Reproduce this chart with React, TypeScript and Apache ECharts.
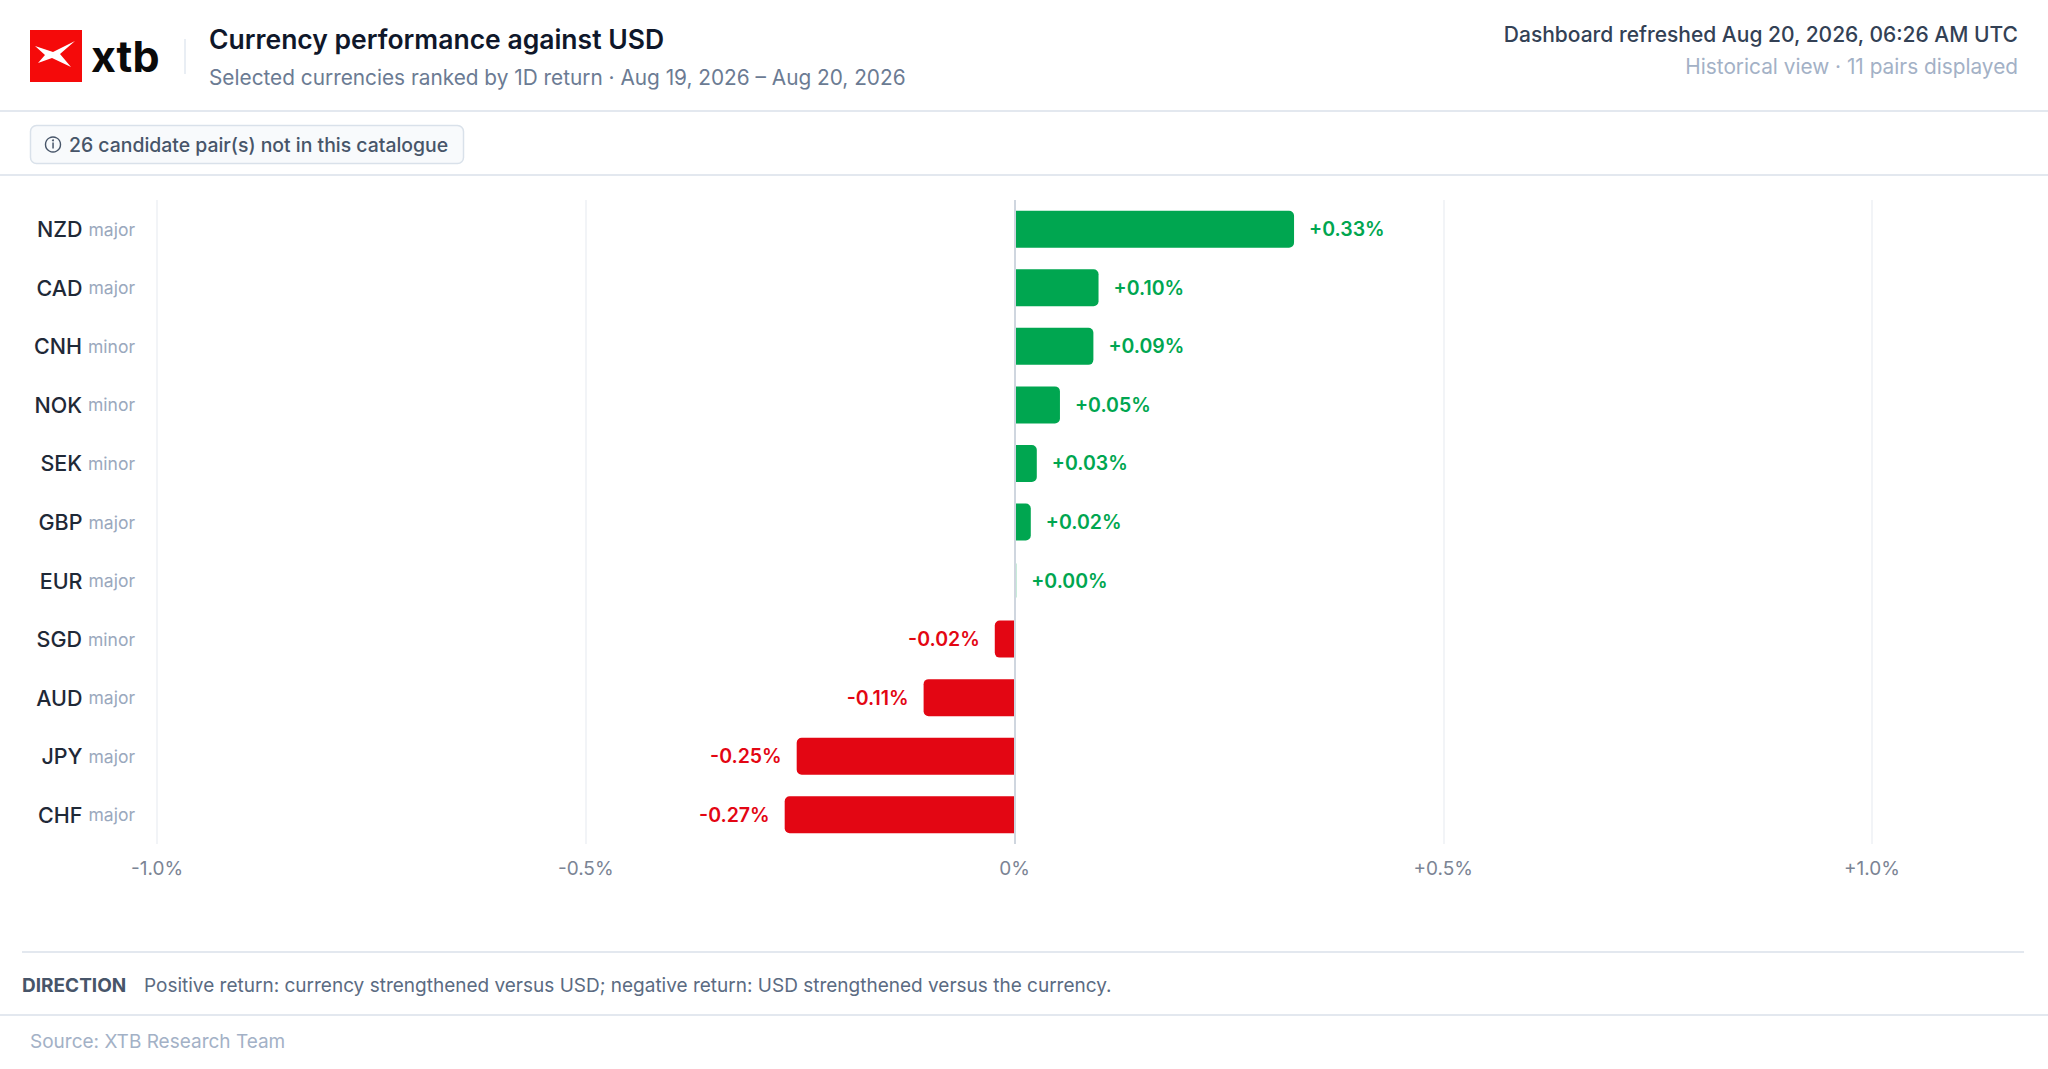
import React, { useEffect, useRef } from "react";
import * as echarts from "echarts";

const categories = ["NZD", "CAD", "CNH", "NOK", "SEK", "GBP", "EUR", "SGD", "AUD", "JPY", "CHF"];
const tiers = ["major", "major", "minor", "minor", "minor", "major", "major", "minor", "major", "major", "major"];
const returns = [0.326, 0.098, 0.092, 0.053, 0.026, 0.019, 0.002, -0.023, -0.106, -0.254, -0.268];
const xMin = -1;
const xMax = 1;
const xStep = 0.5;

const TITLE = "Currency performance against USD";
const SUBTITLE = "Selected currencies ranked by 1D return · Aug 19, 2026 – Aug 20, 2026";
const REFRESHED = "Dashboard refreshed Aug 20, 2026, 06:26 AM UTC";
const VIEW_NOTE = "Historical view · 11 pairs displayed";
const BADGE = "26 candidate pair(s) not in this catalogue";
const DIRECTION_LABEL = "DIRECTION";
const DIRECTION_TEXT = "Positive return: currency strengthened versus USD; negative return: USD strengthened versus the currency.";
const SOURCE = "Source: XTB Research Team";

const GREEN = "#00a650";
const RED = "#e30613";
const FONT = "Inter, 'Noto Sans', 'DejaVu Sans', sans-serif";

let registered = false;
function registerLogo() {
  if (registered) return;
  registered = true;
  const d = "M5 16 L23 22 L45 11 L30 24 L41 37 L22 28 L8 33 L15 25 Z";
  echarts.graphic.registerShape("xtbmark", echarts.graphic.extendPath(d, {}));
}

function fmtPct(v: number) {
  const s = Math.abs(v).toFixed(2);
  return (v >= 0 ? "+" : "-") + s + "%";
}

function fmtTick(v: number) {
  if (v === 0) return "0%";
  return (v > 0 ? "+" : "") + v.toFixed(1) + "%";
}

export default function App() {
  const ref = useRef<HTMLDivElement>(null);

  useEffect(() => {
    if (!ref.current) return;
    registerLogo();
    const chart = echarts.init(ref.current, null, { renderer: "svg" });

    const barData = returns.map((v) => {
      const pos = v >= 0;
      return {
        value: v,
        itemStyle: {
          color: pos ? GREEN : RED,
          borderRadius: pos ? [0, 5, 5, 0] : [5, 0, 0, 5],
        },
        label: {
          show: true,
          position: pos ? "right" : "left",
          distance: 15,
          color: pos ? GREEN : RED,
          fontSize: 19.5,
          fontWeight: 600,
          fontFamily: FONT,
          formatter: () => fmtPct(v),
        },
      };
    });

    const text = (
      x: number,
      y: number,
      t: string,
      size: number,
      color: string,
      weight: number | string = 400,
      align: string = "left"
    ) => ({
      type: "text",
      x,
      y,
      silent: true,
      style: {
        text: t,
        fontSize: size,
        fontWeight: weight,
        fontFamily: FONT,
        fill: color,
        textAlign: align,
        textVerticalAlign: "middle",
      },
    });

    const option: any = {
      animation: false,
      backgroundColor: "#ffffff",
      grid: { left: 157, right: 176, top: 200, bottom: 225, containLabel: false },
      xAxis: {
        type: "value",
        min: xMin,
        max: xMax,
        interval: xStep,
        axisLine: { show: false },
        axisTick: { show: false },
        splitLine: { show: true, lineStyle: { color: "#eef1f5", width: 1.5 } },
        axisLabel: {
          margin: 15,
          color: "#7b8494",
          fontSize: 19,
          fontFamily: FONT,
          formatter: (v: number) => fmtTick(v),
        },
      },
      yAxis: {
        type: "category",
        inverse: true,
        data: categories,
        axisLine: { show: false },
        axisTick: { show: false },
        axisLabel: {
          margin: 22,
          formatter: (val: string, idx: number) => `{c|${val}}{t|${tiers[idx]}}`,
          rich: {
            c: { fontSize: 21.5, color: "#1f2937", fontFamily: FONT, fontWeight: 500 },
            t: { fontSize: 17.5, color: "#9aa8bd", fontFamily: FONT, padding: [0, 0, 0, 6] },
          },
        },
      },
      series: [
        {
          type: "bar",
          data: barData,
          barWidth: 37,
          silent: true,
          markLine: {
            silent: true,
            symbol: "none",
            label: { show: false },
            lineStyle: { color: "#cfd6df", width: 2, type: "solid" },
            data: [{ xAxis: 0 }],
          },
        },
      ],
      graphic: [
        // logo
        { type: "rect", x: 30, y: 30, shape: { width: 52, height: 52 }, style: { fill: "#f50a0a" }, silent: true },
        { type: "xtbmark", x: 30, y: 30, style: { fill: "#ffffff" }, silent: true },
        {
          type: "text",
          x: 91,
          y: 56,
          silent: true,
          style: {
            text: "xtb",
            fontSize: 43,
            fontWeight: 700,
            fontFamily: FONT,
            fill: "#0a0a0a",
            textAlign: "left",
            textVerticalAlign: "middle",
          },
        },
        { type: "line", shape: { x1: 185, y1: 39, x2: 185, y2: 74 }, style: { stroke: "#e2e8f0", lineWidth: 1.5 }, silent: true },
        text(209, 39, TITLE, 26.5, "#0f172a", 600),
        text(209, 77, SUBTITLE, 20.8, "#6b7b93", 400),
        text(2018, 34, REFRESHED, 21, "#334155", 500, "right"),
        text(2018, 66, VIEW_NOTE, 20.8, "#a3b1c6", 400, "right"),
        // header separators
        { type: "rect", x: 0, y: 110, shape: { width: 2048, height: 2 }, style: { fill: "#e3e8ef" }, silent: true },
        // badge
        {
          type: "rect",
          x: 30.5,
          y: 125.5,
          shape: { width: 433, height: 38, r: 6 },
          style: { fill: "#f8fafc", stroke: "#d9e1ea", lineWidth: 1.5 },
          silent: true,
        },
        { type: "circle", x: 53, y: 144.5, shape: { r: 7.5 }, style: { fill: "none", stroke: "#475569", lineWidth: 1.4 }, silent: true },
        { type: "rect", x: 52.3, y: 142.5, shape: { width: 1.5, height: 6 }, style: { fill: "#475569" }, silent: true },
        { type: "circle", x: 53, y: 140.3, shape: { r: 1 }, style: { fill: "#475569" }, silent: true },
        text(69, 145, BADGE, 19.4, "#475569", 500),
        { type: "rect", x: 0, y: 174, shape: { width: 2048, height: 2 }, style: { fill: "#e3e8ef" }, silent: true },
        // footer
        { type: "rect", x: 22, y: 951, shape: { width: 2002, height: 2 }, style: { fill: "#e3e8ef" }, silent: true },
        text(22, 985, DIRECTION_LABEL, 19, "#475569", 700),
        text(144, 985, DIRECTION_TEXT, 19, "#5b6b82", 400),
        { type: "rect", x: 0, y: 1014, shape: { width: 2048, height: 2 }, style: { fill: "#e3e8ef" }, silent: true },
        text(30, 1041, SOURCE, 19, "#a3b1c6", 400),
      ],
    };

    chart.setOption(option);
    return () => chart.dispose();
  }, []);

  return (
    <div
      ref={ref}
      style={{ position: "absolute", left: 0, top: 0, width: 2048, height: 1069, background: "#fff" }}
    />
  );
}
